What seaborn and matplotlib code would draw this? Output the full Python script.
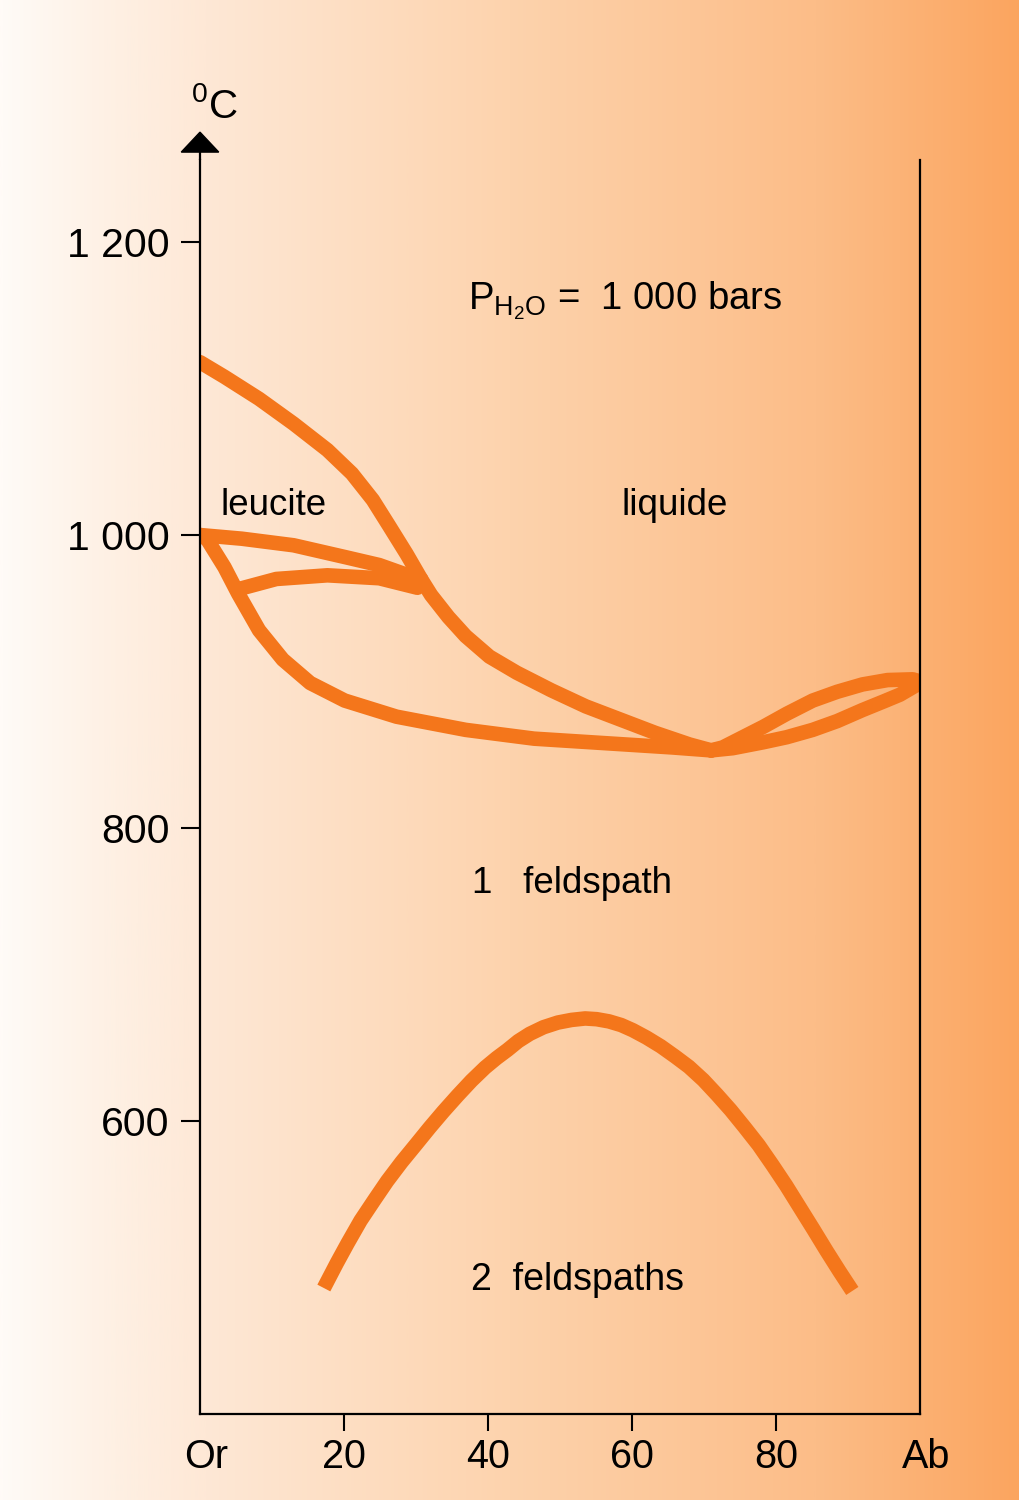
import numpy as np
import pandas as pd
import matplotlib
matplotlib.use("Agg")
import matplotlib.pyplot as plt
from matplotlib.colors import LinearSegmentedColormap
from matplotlib.patches import Polygon
from matplotlib.transforms import ScaledTranslation
import seaborn as sns

sns.set_style("ticks")
plt.rcParams['font.family'] = ['Liberation Sans', 'DejaVu Sans']
plt.rcParams['mathtext.fontset'] = 'custom'
plt.rcParams['mathtext.rm'] = 'Liberation Sans'
plt.rcParams['mathtext.it'] = 'Liberation Sans:italic'
plt.rcParams['text.color'] = 'black'
plt.rcParams['axes.labelcolor'] = 'black'
plt.rcParams['xtick.color'] = 'black'
plt.rcParams['ytick.color'] = 'black'

# ---------------- data (composition % Ab, temperature °C) ----------------
leucite_liquidus_x = [0, 3.4, 8.2, 13.0, 17.7, 21.1, 24.0, 26.3, 28.7, 30.7]
leucite_liquidus_T = [1118, 1108, 1093, 1076, 1058, 1042, 1024, 1006, 987, 970]

liquidus_x = [30.7, 32.1, 34.5, 36.9, 40.2, 44.0, 48.8, 53.6, 58.4, 63.2,
              68.0, 71]
liquidus_T = [970, 959, 944, 931, 917, 906, 894, 883, 874, 865,
              857, 853]

solidus_x = [0, 1.0, 3.4, 5.3, 8.2, 11.5, 15.3, 20.1, 27.3, 36.9, 46.4,
             56.0, 65.6, 71]
solidus_T = [1000, 997, 978, 960, 935, 915, 899, 887, 876, 867, 861,
             858, 855, 853]

leucite_upper_x = [0, 5.8, 13.0, 20.1, 24.9, 29.2, 30.7]
leucite_upper_T = [1000, 997.5, 993, 985, 979.5, 972, 969]

leucite_lower_x = [5.3, 10.6, 17.7, 24.9, 30.2]
leucite_lower_T = [963, 970, 972.5, 970.5, 964]

ab_liquidus_x = [71, 72.6, 75, 78.2, 81.5, 85.1, 88.5, 92, 95.5, 99, 100]
ab_liquidus_T = [853, 855, 861, 869, 878, 887, 893, 898, 901, 901.5, 900]

ab_solidus_x = [71, 74, 78.2, 81.5, 85.1, 88.5, 92, 95, 97.2, 100]
ab_solidus_T = [853, 854.5, 858.5, 862, 867, 873, 880.5, 886.5, 891, 899]

solvus_x = [17.2, 19.0, 20.5, 22.3, 24.2, 26.0, 28.0, 30.0, 31.9, 33.8,
            35.8, 37.7, 39.6, 41.2, 42.7, 44.2, 45.8, 47.7, 49.7, 51.6,
            53.5, 55.1, 56.8, 58.5, 60.1, 62.0, 64.0, 66.0, 67.9, 69.9,
            71.8, 73.7, 75.6, 77.6, 79.5, 81.4, 83.3, 85.2, 87.0, 88.8, 90.6]
solvus_T = [486, 503, 516.5, 532, 546, 559, 572, 584, 595.5, 606.5,
            617.5, 627.5, 636.5, 643, 648.5, 654.5, 659.5, 664, 667.2, 669,
            670, 669.5, 668, 665.5, 662, 657, 651, 644, 637, 628,
            618, 607.5, 596, 583.5, 570, 556, 541, 526, 511.5, 497.5, 484]

x_ticks = [0, 20, 40, 60, 80, 100]
x_labels = ["Or", "20", "40", "60", "80", "Ab"]
y_ticks = [600, 800, 1000, 1200]
y_labels = ["600", "800", "1 000", "1 200"]

# ---------------- build tables ----------------
def table(name, xs, ts):
    return pd.DataFrame({"curve": name, "x": xs, "T": ts})

phase = pd.concat([
    table("leucite_liquidus", leucite_liquidus_x, leucite_liquidus_T),
    table("liquidus", liquidus_x, liquidus_T),
    table("solidus", solidus_x, solidus_T),
    table("leucite_upper", leucite_upper_x, leucite_upper_T),
    table("leucite_lower", leucite_lower_x, leucite_lower_T),
    table("ab_liquidus", ab_liquidus_x, ab_liquidus_T),
    table("ab_solidus", ab_solidus_x, ab_solidus_T),
], ignore_index=True)
solvus = table("solvus", solvus_x, solvus_T)

# ---------------- figure ----------------
W, H = 1020, 1500
fig = plt.figure(figsize=(W / 100, H / 100), dpi=100)

bg = fig.add_axes([0, 0, 1, 1], zorder=0)
bg.axis("off")
cmap = LinearSegmentedColormap.from_list(
    "bg", [(0.0, "#FFFBF7"), (0.1, "#FEF1E5"), (0.2, "#FEE8D6"),
           (0.5, "#FDD3AD"), (0.8, "#FCBD88"), (1.0, "#FBA55F")])
bg.imshow(np.linspace(0, 1, 512)[None, :], aspect="auto", cmap=cmap,
          extent=[0, 1, 0, 1])
bg.set_xlim(0, 1)
bg.set_ylim(0, 1)

ax = fig.add_axes([200 / W, 1 - 1414 / H, 720 / W, 1254 / H], zorder=1)
ax.patch.set_alpha(0)

orange = "#F4761B"
lw = 10.5
sns.lineplot(data=phase, x="x", y="T", units="curve", estimator=None,
             sort=False, color=orange, linewidth=lw, ax=ax,
             solid_capstyle="round", solid_joinstyle="round")
sns.lineplot(data=solvus, x="x", y="T", units="curve", estimator=None,
             sort=False, color=orange, linewidth=lw, ax=ax,
             solid_capstyle="butt", solid_joinstyle="round")

ax.set_xlim(0, 100)
ax.set_ylim(400, 1256)
ax.set_xlabel("")
ax.set_ylabel("")

for s in ["left", "right", "bottom"]:
    ax.spines[s].set_linewidth(1.6)
    ax.spines[s].set_color("black")
ax.spines["top"].set_visible(False)

ax.set_xticks(x_ticks)
ax.set_xticklabels(x_labels)
ax.set_yticks(y_ticks)
ax.set_yticklabels(y_labels)
ax.tick_params(axis="x", direction="out", length=12, width=1.5, pad=5,
               labelsize=28.5, colors="black")
ax.tick_params(axis="y", direction="out", length=14, width=1.5, pad=8,
               labelsize=29.5, colors="black")
ticks = ax.xaxis.get_major_ticks()
ticks[0].tick1line.set_visible(False)
ticks[-1].tick1line.set_visible(False)
shift = ScaledTranslation(6 / 100, 0, fig.dpi_scale_trans)
for lab in (ax.get_xticklabels()[0], ax.get_xticklabels()[-1]):
    lab.set_transform(lab.get_transform() + shift)

# extended left axis with arrow head
ax.plot([0, 0], [1256, 1262], color="black", linewidth=1.6, clip_on=False,
        solid_capstyle="butt")
ax.add_patch(Polygon([[-2.6, 1261.4], [2.6, 1261.4], [0, 1275]], closed=True,
                     facecolor="black", edgecolor="black", clip_on=False))

# texts
fig.text(214 / W, 1 - 106 / H, r"$^{0}$C", fontsize=29, ha="center",
         va="center")
ax.text(37.2, 1160, r"$\mathrm{P_{H_2O}}$ =  1 000 bars", fontsize=27.5,
        ha="left", va="center")
ax.text(2.8, 1020, "leucite", fontsize=26.5, ha="left", va="center")
ax.text(58.6, 1020, "liquide", fontsize=26.5, ha="left", va="center")
ax.text(37.8, 762, "1   feldspath", fontsize=26.5, ha="left", va="center")
ax.text(37.6, 491.5, "2  feldspaths", fontsize=27, ha="left", va="center")

fig.savefig("out.png", dpi=100)
